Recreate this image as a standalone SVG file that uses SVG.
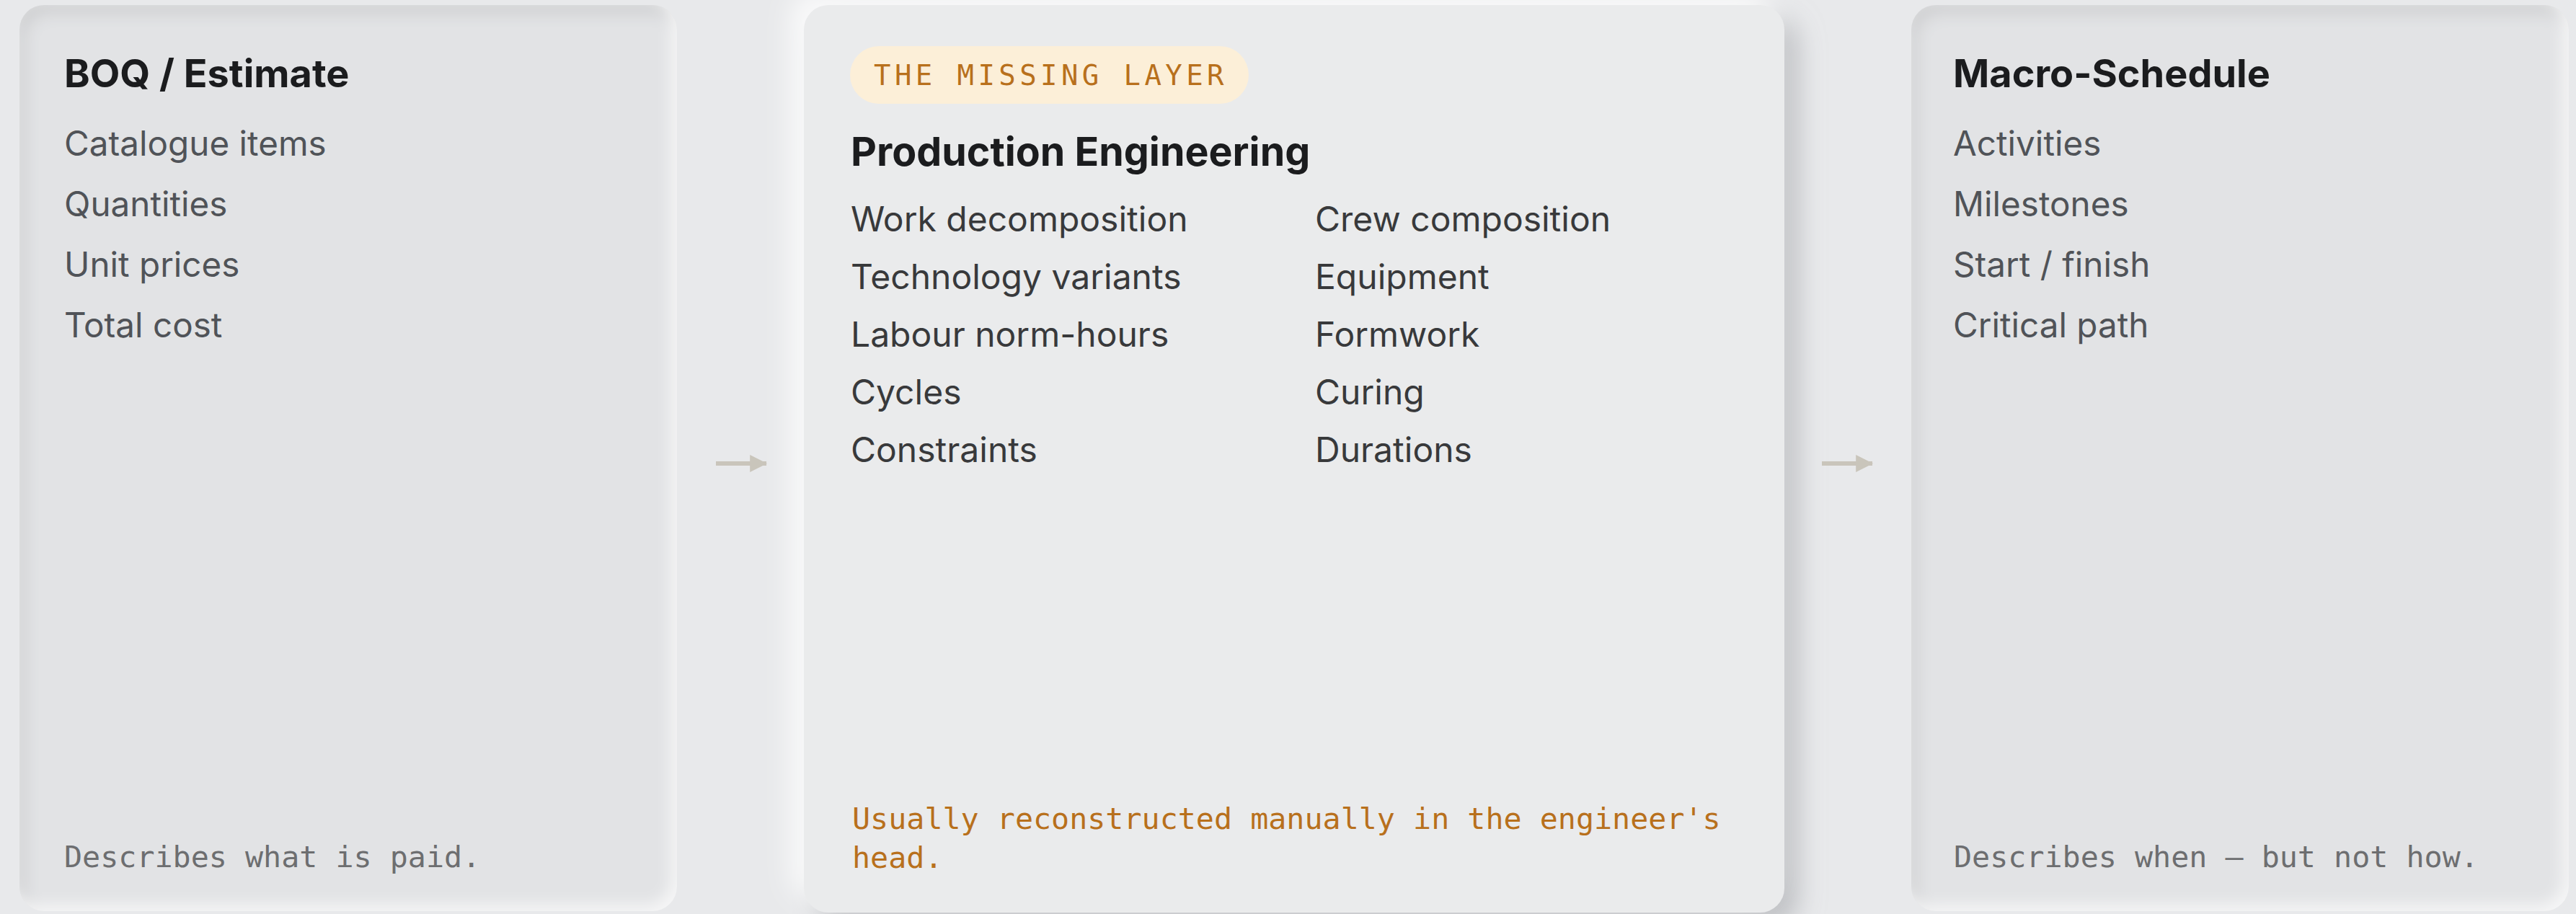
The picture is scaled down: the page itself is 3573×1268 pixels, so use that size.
<svg xmlns="http://www.w3.org/2000/svg" width="3573" height="1268" viewBox="0 0 3573 1268">
  <defs>
    <style>
      .title { font-family: Inter, "Noto Sans", "Liberation Sans", sans-serif; font-weight: 700; font-size: 54px; fill: #1b1c1e; }
      .title-lg { font-size: 55.5px; }
      .side { font-family: Inter, "Noto Sans", "Liberation Sans", sans-serif; font-size: 47.6px; fill: #505358; }
      .mid { font-family: Inter, "Noto Sans", "Liberation Sans", sans-serif; font-size: 48px; fill: #38393b; }
      .foot { font-family: "DejaVu Sans Mono", "Liberation Mono", monospace; font-size: 41.7px; fill: #6d6e70; }
      .accent { font-family: "DejaVu Sans Mono", "Liberation Mono", monospace; font-size: 41.7px; fill: #b8701c; }
      .badge { font-family: "DejaVu Sans Mono", "Liberation Mono", monospace; font-size: 39px; fill: #b8701c; letter-spacing: 5.4px; }
      .inset { fill: #e2e3e5; }
      .raised { fill: #eaebec; }
      .arrow { stroke: #c9c5bb; stroke-width: 6; fill: none; }
    </style>
    <filter id="insetShadow" x="-5%" y="-5%" width="110%" height="110%">
      <feFlood flood-color="#000000" flood-opacity="0.18" result="dark"/>
      <feComposite in="dark" in2="SourceAlpha" operator="out" result="darkOut"/>
      <feOffset in="darkOut" dx="8" dy="12" result="darkOff"/>
      <feGaussianBlur in="darkOff" stdDeviation="11" result="darkBlur"/>
      <feComposite in="darkBlur" in2="SourceAlpha" operator="in" result="darkIn"/>
      <feFlood flood-color="#ffffff" flood-opacity="0.7" result="light"/>
      <feComposite in="light" in2="SourceAlpha" operator="out" result="lightOut"/>
      <feOffset in="lightOut" dx="-8" dy="-8" result="lightOff"/>
      <feGaussianBlur in="lightOff" stdDeviation="10" result="lightBlur"/>
      <feComposite in="lightBlur" in2="SourceAlpha" operator="in" result="lightIn"/>
      <feMerge>
        <feMergeNode in="SourceGraphic"/>
        <feMergeNode in="darkIn"/>
        <feMergeNode in="lightIn"/>
      </feMerge>
    </filter>
    <filter id="raisedShadow" x="-10%" y="-10%" width="120%" height="120%">
      <feOffset in="SourceAlpha" dx="18" dy="18" result="o1"/>
      <feGaussianBlur in="o1" stdDeviation="18" result="b1"/>
      <feFlood flood-color="#a9abaf" flood-opacity="0.7"/>
      <feComposite in2="b1" operator="in" result="darkSh"/>
      <feOffset in="SourceAlpha" dx="-18" dy="-18" result="o2"/>
      <feGaussianBlur in="o2" stdDeviation="18" result="b2"/>
      <feFlood flood-color="#ffffff" flood-opacity="0.8"/>
      <feComposite in2="b2" operator="in" result="lightSh"/>
      <feMerge>
        <feMergeNode in="darkSh"/>
        <feMergeNode in="lightSh"/>
        <feMergeNode in="SourceGraphic"/>
      </feMerge>
    </filter>
    <marker id="head" viewBox="0 0 10 10" refX="9.5" refY="5" markerWidth="4" markerHeight="5.33" markerUnits="strokeWidth" orient="auto">
      <path d="M0,0 L10,5 L0,10 Z" fill="#c9c5bb"/>
    </marker>
  </defs>

  <rect x="0" y="0" width="3573" height="1268" fill="#e8e9eb"/>

  <g id="boq">
    <rect class="inset" x="27" y="7" width="912" height="1257" rx="34" filter="url(#insetShadow)"/>
    <text class="title" x="89" y="121">BOQ / Estimate</text>
    <text class="side" x="89" y="216">Catalogue items</text>
    <text class="side" x="89" y="300">Quantities</text>
    <text class="side" x="89" y="384">Unit prices</text>
    <text class="side" x="89" y="468">Total cost</text>
    <text class="foot" x="89" y="1203">Describes what is paid.</text>
  </g>

  <g id="production">
    <rect class="raised" x="1115" y="7" width="1360" height="1259" rx="34" filter="url(#raisedShadow)"/>
    <rect x="1179" y="64" width="553" height="80" rx="40" fill="#fcefd8"/>
    <text class="badge" x="1212" y="118">THE MISSING LAYER</text>
    <text class="title title-lg" x="1180" y="230">Production Engineering</text>
    <text class="mid" x="1180" y="321">Work decomposition</text>
    <text class="mid" x="1180" y="401">Technology variants</text>
    <text class="mid" x="1180" y="481">Labour norm-hours</text>
    <text class="mid" x="1180" y="561">Cycles</text>
    <text class="mid" x="1180" y="641">Constraints</text>
    <text class="mid" x="1824" y="321">Crew composition</text>
    <text class="mid" x="1824" y="401">Equipment</text>
    <text class="mid" x="1824" y="481">Formwork</text>
    <text class="mid" x="1824" y="561">Curing</text>
    <text class="mid" x="1824" y="641">Durations</text>
    <text class="accent" x="1182" y="1150">Usually reconstructed manually in the engineer's</text>
    <text class="accent" x="1182" y="1204">head.</text>
  </g>

  <g id="schedule">
    <rect class="inset" x="2651" y="7" width="912" height="1257" rx="34" filter="url(#insetShadow)"/>
    <text class="title" x="2709" y="121">Macro-Schedule</text>
    <text class="side" x="2709" y="216">Activities</text>
    <text class="side" x="2709" y="300">Milestones</text>
    <text class="side" x="2709" y="384">Start / finish</text>
    <text class="side" x="2709" y="468">Critical path</text>
    <text class="foot" x="2710" y="1203">Describes when — but not how.</text>
  </g>

  <g id="connectors">
    <line class="arrow" x1="993" y1="643" x2="1063" y2="643" marker-end="url(#head)"/>
    <line class="arrow" x1="2527" y1="643" x2="2597" y2="643" marker-end="url(#head)"/>
  </g>
</svg>
